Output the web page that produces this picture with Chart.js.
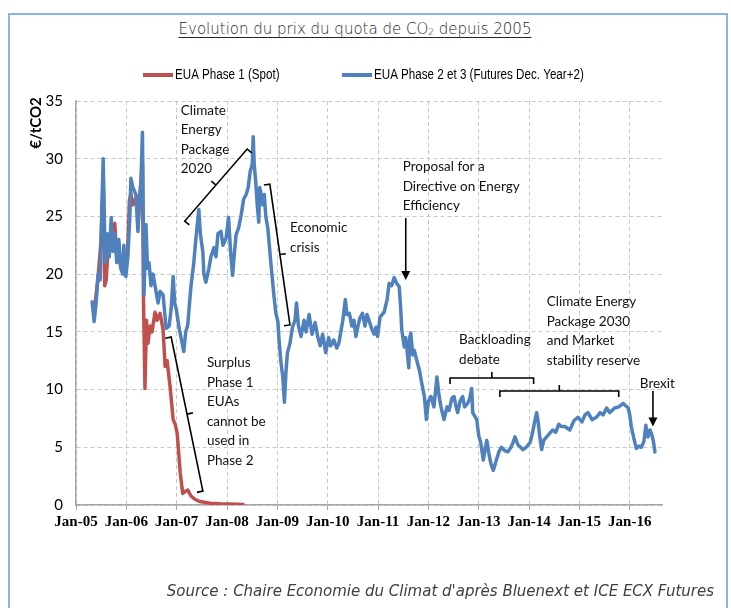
<!DOCTYPE html>
<html>
<head>
<meta charset="utf-8">
<title>Evolution du prix du quota de CO2 depuis 2005</title>
<script src="https://cdn.jsdelivr.net/npm/chart.js"></script>
<style>
  html, body { margin: 0; padding: 0; background: #fff; }
  body { width: 731px; height: 608px; position: relative; overflow: hidden; }
  .frame { position: absolute; left: 8px; top: 13px; width: 716px; height: 620px; border: 2px solid #8db4e2; }
  .title { position: absolute; left: 0; width: 710px; top: 20px; text-align: center;
           font-family: "DejaVu Sans", sans-serif; font-weight: 200; font-size: 15px; color: #262626;
           text-decoration: underline; text-underline-offset: 3px; }
  .title sub { font-size: 9px; vertical-align: -1px; }
  .source { position: absolute; right: 17px; top: 582px; font-family: "DejaVu Sans", sans-serif;
            font-weight: 200; font-style: italic; font-size: 15px; color: #404040; }
  canvas { position: absolute; left: 0; top: 0; }
</style>
</head>
<body>
<div class="frame"></div>
<div class="title">Evolution du prix du quota de CO<sub>2</sub> depuis 2005</div>
<canvas id="chart" width="731" height="608"></canvas>
<div class="source">Source : Chaire Economie du Climat d'après Bluenext et ICE ECX Futures</div>
<script>
// x values are decimal years, y values in EUR / tCO2
const yearTicks = [2005, 2006, 2007, 2008, 2009, 2010, 2011, 2012, 2013, 2014, 2015, 2016];
const tickLabels = ['Jan-05', 'Jan-06', 'Jan-07', 'Jan-08', 'Jan-09', 'Jan-10', 'Jan-11', 'Jan-12', 'Jan-13', 'Jan-14', 'Jan-15', 'Jan-16'];
const seriesNames = ['EUA Phase 1 (Spot)', 'EUA Phase 2 et 3 (Futures Dec. Year+2)'];

const phase1Dates = [2005.38, 2005.44, 2005.50, 2005.54, 2005.57, 2005.60, 2005.64, 2005.70, 2005.73, 2005.77,
  2005.81, 2005.85, 2005.89, 2005.93, 2005.98, 2006.03, 2006.06, 2006.09, 2006.13, 2006.21,
  2006.23, 2006.27, 2006.32, 2006.34, 2006.37, 2006.40, 2006.43, 2006.47, 2006.51, 2006.57,
  2006.61, 2006.67, 2006.73, 2006.77, 2006.81, 2006.87, 2006.93, 2006.97, 2007.01, 2007.07,
  2007.12, 2007.18, 2007.22, 2007.28, 2007.36, 2007.46, 2007.66, 2007.86, 2008.06, 2008.32];
const phase1Prices = [17.5, 19.8, 23.0, 28.5, 19.0, 19.5, 22.5, 23.5, 22.0, 24.4,
  21.5, 22.0, 20.5, 21.5, 20.0, 22.5, 26.3, 27.0, 26.0, 26.7,
  24.0, 27.0, 29.5, 18.0, 10.1, 16.0, 14.0, 15.5, 15.0, 16.7,
  16.0, 16.6, 15.2, 12.0, 12.5, 10.2, 7.4, 7.0, 6.2, 2.8,
  1.0, 1.2, 1.3, 0.8, 0.5, 0.3, 0.15, 0.1, 0.08, 0.05];

const phase2Dates = [2005.32, 2005.36, 2005.40, 2005.44, 2005.48, 2005.50, 2005.54, 2005.58, 2005.62, 2005.66,
  2005.70, 2005.73, 2005.77, 2005.81, 2005.85, 2005.89, 2005.93, 2005.95, 2005.99, 2006.03,
  2006.07, 2006.09, 2006.13, 2006.19, 2006.23, 2006.25, 2006.29, 2006.32, 2006.35, 2006.39,
  2006.42, 2006.45, 2006.49, 2006.53, 2006.59, 2006.63, 2006.67, 2006.73, 2006.79, 2006.85,
  2006.89, 2006.93, 2006.96, 2006.99, 2007.05, 2007.14, 2007.18, 2007.22, 2007.28, 2007.34,
  2007.38, 2007.44, 2007.47, 2007.52, 2007.54, 2007.58, 2007.64, 2007.68, 2007.74, 2007.78,
  2007.82, 2007.88, 2007.92, 2007.98, 2008.03, 2008.07, 2008.11, 2008.15, 2008.18, 2008.23,
  2008.28, 2008.33, 2008.38, 2008.42, 2008.46, 2008.50, 2008.52, 2008.54, 2008.57, 2008.60,
  2008.63, 2008.65, 2008.67, 2008.71, 2008.74, 2008.77, 2008.81, 2008.87, 2008.93, 2008.97,
  2009.01, 2009.03, 2009.07, 2009.11, 2009.14, 2009.17, 2009.20, 2009.25, 2009.30, 2009.35,
  2009.38, 2009.42, 2009.47, 2009.53, 2009.57, 2009.63, 2009.69, 2009.75, 2009.80, 2009.85,
  2009.90, 2009.96, 2010.02, 2010.06, 2010.12, 2010.18, 2010.22, 2010.26, 2010.30, 2010.35,
  2010.38, 2010.43, 2010.48, 2010.52, 2010.56, 2010.60, 2010.64, 2010.69, 2010.74, 2010.78,
  2010.82, 2010.88, 2010.92, 2010.96, 2010.99, 2011.04, 2011.12, 2011.18, 2011.22, 2011.27,
  2011.32, 2011.37, 2011.42, 2011.45, 2011.47, 2011.52, 2011.55, 2011.59, 2011.61, 2011.63,
  2011.65, 2011.69, 2011.72, 2011.77, 2011.82, 2011.87, 2011.92, 2011.96, 2012.00, 2012.05,
  2012.11, 2012.17, 2012.21, 2012.25, 2012.31, 2012.37, 2012.41, 2012.47, 2012.51, 2012.55,
  2012.58, 2012.63, 2012.68, 2012.72, 2012.78, 2012.82, 2012.86, 2012.88, 2012.96, 2013.00,
  2013.04, 2013.09, 2013.16, 2013.20, 2013.24, 2013.29, 2013.35, 2013.40, 2013.45, 2013.52,
  2013.58, 2013.64, 2013.68, 2013.72, 2013.78, 2013.83, 2013.88, 2013.94, 2014.02, 2014.07,
  2014.11, 2014.15, 2014.18, 2014.21, 2014.25, 2014.29, 2014.35, 2014.41, 2014.47, 2014.53,
  2014.59, 2014.64, 2014.71, 2014.81, 2014.89, 2014.97, 2015.05, 2015.11, 2015.17, 2015.25,
  2015.34, 2015.41, 2015.47, 2015.54, 2015.60, 2015.70, 2015.78, 2015.87, 2015.92, 2015.97,
  2016.00, 2016.03, 2016.08, 2016.13, 2016.18, 2016.23, 2016.28, 2016.32, 2016.34, 2016.36,
  2016.40, 2016.43, 2016.47, 2016.50];
const phase2Prices = [17.6, 15.9, 17.5, 20.0, 19.5, 23.4, 30.0, 21.0, 23.5, 21.5,
  24.9, 22.0, 23.5, 21.0, 23.0, 20.5, 20.0, 22.5, 19.8, 21.5,
  25.0, 28.3, 27.5, 26.9, 23.7, 25.5, 28.0, 32.3, 18.2, 24.3,
  20.5, 21.0, 19.0, 20.0, 18.5, 17.5, 18.5, 18.2, 15.3, 15.5,
  17.0, 19.8, 17.5, 17.0, 15.3, 13.3, 15.0, 15.6, 18.8, 21.0,
  23.0, 25.6, 23.5, 21.9, 20.0, 19.3, 20.5, 21.5, 22.3, 21.5,
  23.5, 23.7, 22.5, 23.1, 24.9, 22.0, 19.9, 22.0, 23.4, 24.0,
  25.1, 26.5, 26.9, 27.5, 28.9, 29.5, 31.9, 29.5, 28.0, 26.0,
  24.5, 27.5, 27.1, 26.0, 26.9, 25.0, 24.0, 21.0, 18.2, 16.6,
  15.9, 14.5, 12.4, 11.0, 8.9, 11.5, 13.2, 14.0, 15.4, 16.0,
  17.5, 15.5, 14.6, 16.0, 15.0, 16.5, 14.8, 15.8, 14.6, 13.8,
  14.8, 13.2, 14.5, 13.8, 14.3, 13.6, 14.0, 15.0, 16.0, 17.8,
  16.5, 16.6, 15.5, 16.0, 14.6, 15.5, 16.2, 16.6, 15.5, 16.5,
  16.0, 15.2, 14.8, 15.4, 14.6, 16.3, 16.7, 17.8, 19.2, 19.0,
  19.7, 19.2, 18.9, 17.0, 15.2, 13.7, 14.5, 12.8, 11.9, 14.5,
  14.9, 13.0, 13.4, 12.5, 11.7, 10.5, 9.4, 7.4, 9.0, 9.4,
  8.5, 11.1, 9.5, 8.5, 7.4, 8.5, 8.2, 9.3, 9.4, 8.5,
  8.0, 9.0, 9.4, 8.5, 8.8, 9.2, 10.1, 8.0, 7.4, 6.0,
  5.4, 3.9, 5.6, 4.5, 3.6, 3.0, 3.9, 4.6, 5.0, 4.7,
  4.6, 5.0, 5.4, 5.9, 5.2, 5.0, 4.8, 5.0, 5.4, 6.3,
  7.2, 8.0, 7.2, 6.0, 4.8, 5.6, 5.9, 6.2, 6.5, 6.3,
  7.0, 6.8, 6.8, 6.5, 7.3, 7.6, 7.2, 7.8, 8.0, 7.4,
  7.6, 8.0, 7.8, 8.4, 8.0, 8.4, 8.5, 8.8, 8.6, 8.4,
  7.8, 6.8, 5.8, 4.9, 5.1, 5.0, 5.5, 6.9, 6.0, 5.9,
  6.5, 6.2, 5.5, 4.6];

const RED = '#c0504d';
const BLUE = '#4f81bd';
const FONT = 'Lato, "Noto Sans", sans-serif';

// annotation texts, anchored in data units (first line centre), line height in px
const notes = [
  { x: 2007.08, y: 34.2, lines: ['Climate', 'Energy', 'Package', '2020'] },
  { x: 2009.25, y: 24.0, lines: ['Economic', 'crisis'] },
  { x: 2011.49, y: 29.3, lines: ['Proposal for a', 'Directive on Energy', 'Efficiency'] },
  { x: 2007.60, y: 12.3, lines: ['Surplus', 'Phase 1', 'EUAs', 'cannot be', 'used in', 'Phase 2'] },
  { x: 2012.61, y: 14.3, lines: ['Backloading', 'debate'] },
  { x: 2014.35, y: 17.6, lines: ['Climate Energy', 'Package 2030', 'and Market', 'stability reserve'] },
  { x: 2016.20, y: 10.5, lines: ['Brexit'] }
];
// brackets: two ends in data units, hook = screen direction the end hooks point to
const brackets = [
  { a: [2007.16, 24.6], b: [2008.40, 30.84], hook: [1, 1] },
  { a: [2008.85, 27.8], b: [2009.25, 15.6], hook: [-1, 0] },
  { a: [2006.89, 14.55], b: [2007.52, 1.2], hook: [-1, 0] },
  { a: [2012.43, 11.0], b: [2014.09, 11.0], hook: [0, 1] },
  { a: [2013.42, 9.88], b: [2015.78, 9.88], hook: [0, 1] }
];
const arrows = [
  { x: 2011.55, from: 24.86, to: 19.5 },
  { x: 2016.46, from: 9.88, to: 6.8 }
];

const extras = {
  id: 'extras',
  afterDraw(chart) {
    const ctx = chart.ctx;
    const xs = chart.scales.x, ys = chart.scales.y;
    const px = v => xs.getPixelForValue(v);
    const py = v => ys.getPixelForValue(v);
    ctx.save();

    // legend (narrow face, squeezed horizontally)
    ctx.font = '14px "Liberation Sans", sans-serif';
    ctx.textBaseline = 'middle';
    const legendX = [143, 342];
    chart.data.datasets.forEach((ds, i) => {
      ctx.fillStyle = ds.borderColor;
      ctx.fillRect(legendX[i], 73, 30, 4);
      ctx.fillStyle = '#000';
      ctx.save();
      ctx.translate(legendX[i] + 32, 75);
      ctx.scale(0.83, 1);
      ctx.fillText(seriesNames[i], 0, 0);
      ctx.restore();
    });

    // y axis title
    ctx.save();
    ctx.translate(36, 123);
    ctx.rotate(-Math.PI / 2);
    ctx.font = 'bold 15px ' + FONT;
    ctx.textAlign = 'center';
    ctx.fillText('€/tCO2', 0, 0);
    ctx.restore();

    // notes
    ctx.font = '13.5px ' + FONT;
    ctx.textAlign = 'left';
    ctx.fillStyle = '#111';
    notes.forEach(n => {
      n.lines.forEach((l, i) => ctx.fillText(l, px(n.x), py(n.y) + i * 19.5));
    });

    // brackets
    ctx.strokeStyle = '#000';
    ctx.lineWidth = 1.6;
    brackets.forEach(b => {
      const x1 = px(b.a[0]), y1 = py(b.a[1]), x2 = px(b.b[0]), y2 = py(b.b[1]);
      const len = Math.hypot(x2 - x1, y2 - y1);
      let nx = (y2 - y1) / len, ny = -(x2 - x1) / len;
      if (nx * b.hook[0] + ny * b.hook[1] < 0) { nx = -nx; ny = -ny; }
      const h = 6;
      const mx = (x1 + x2) / 2, my = (y1 + y2) / 2;
      ctx.beginPath();
      ctx.moveTo(x1 + nx * h, y1 + ny * h);
      ctx.lineTo(x1, y1);
      ctx.lineTo(x2, y2);
      ctx.lineTo(x2 + nx * h, y2 + ny * h);
      ctx.moveTo(mx, my);
      ctx.lineTo(mx - nx * h, my - ny * h);
      ctx.stroke();
    });

    // arrows
    arrows.forEach(a => {
      const x = px(a.x), y1 = py(a.from), y2 = py(a.to);
      ctx.beginPath();
      ctx.moveTo(x, y1);
      ctx.lineTo(x, y2 - 6);
      ctx.stroke();
      ctx.beginPath();
      ctx.moveTo(x - 4.5, y2 - 9);
      ctx.lineTo(x + 4.5, y2 - 9);
      ctx.lineTo(x, y2);
      ctx.closePath();
      ctx.fillStyle = '#000';
      ctx.fill();
    });
    ctx.restore();
  }
};

const toPoints = (xs, ys) => xs.map((x, i) => ({ x: x, y: ys[i] }));

new Chart(document.getElementById('chart'), {
  type: 'line',
  data: {
    datasets: [
      { label: seriesNames[0], data: toPoints(phase1Dates, phase1Prices), borderColor: RED, backgroundColor: RED, order: 2 },
      { label: seriesNames[1], data: toPoints(phase2Dates, phase2Prices), borderColor: BLUE, backgroundColor: BLUE, order: 1 }
    ]
  },
  options: {
    responsive: false,
    animation: false,
    events: [],
    layout: { padding: { left: 0, right: 69, top: 101, bottom: 73 } },
    elements: {
      line: { borderWidth: 3.5, tension: 0, borderJoinStyle: 'round', borderCapStyle: 'round' },
      point: { radius: 0 }
    },
    plugins: { legend: { display: false }, title: { display: false }, tooltip: { enabled: false } },
    scales: {
      x: {
        type: 'linear',
        min: 2005,
        max: 2016.64,
        afterBuildTicks: s => { s.ticks = yearTicks.map(v => ({ value: v })); },
        afterFit: s => { s.height = 30; },
        grid: { color: '#c8c8c8', tickLength: 5, tickColor: '#a6a6a6' },
        border: { color: '#a6a6a6', width: 1.5, dash: [4, 3] },
        ticks: {
          padding: 3,
          autoSkip: false,
          maxRotation: 0,
          color: '#000',
          font: { family: '"Liberation Serif", serif', size: 15, weight: 'bold' },
          callback: (v) => tickLabels[yearTicks.indexOf(v)]
        }
      },
      y: {
        min: 0,
        max: 35,
        afterFit: s => { s.width = 76; },
        grid: { color: '#c8c8c8', drawTicks: false },
        border: { color: '#a6a6a6', width: 1.5, dash: [4, 3] },
        ticks: {
          stepSize: 5,
          padding: 13,
          color: '#000',
          font: { family: FONT, size: 15 }
        }
      }
    }
  },
  plugins: [extras]
});
</script>
</body>
</html>
